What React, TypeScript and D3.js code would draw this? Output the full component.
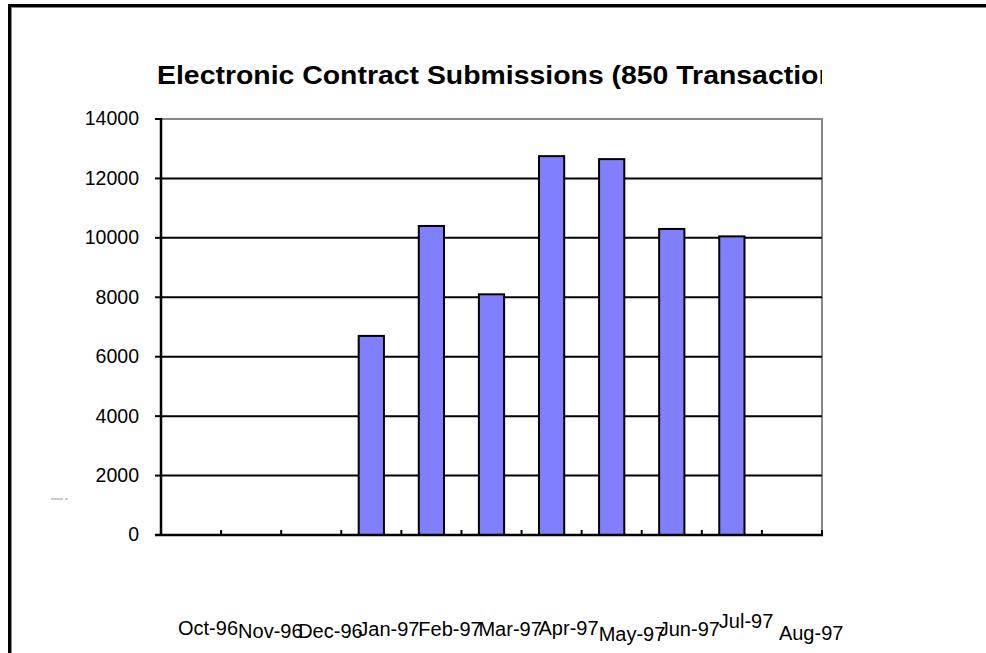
import React from "react";
import * as d3 from "d3";

const categories = ["Oct-96", "Nov-96", "Dec-96", "Jan-97", "Feb-97", "Mar-97", "Apr-97", "May-97", "Jun-97", "Jul-97", "Aug-97"];
const values: (number | null)[] = [null, null, null, 6700, 10400, 8100, 12750, 12650, 10300, 10050, null];
const yTicks = [0, 2000, 4000, 6000, 8000, 10000, 12000, 14000];
const title = "Electronic Contract Submissions (850 Transactions)";

// layout: staggered label baselines as rendered in the original
const labelBaseline = [635, 638, 638, 636, 636, 636, 635, 641, 636, 628, 640];

const W = 986, H = 653;
const left = 161, right = 822, top = 119, bottom = 535;
const font = "Arial, 'Liberation Sans', sans-serif";

export default function App() {
  const x = d3.scaleBand<string>().domain(categories).range([left, right]).paddingInner(0).paddingOuter(0);
  const y = d3.scaleLinear().domain([0, 14000]).range([bottom, top]);
  const bw = x.bandwidth();
  const barW = bw * 0.42;

  return (
    <svg width={W} height={H} style={{ position: "absolute", left: 0, top: 0, background: "#fff" }}>
      <defs>
        <clipPath id="titleClip">
          <rect x={0} y={0} width={822} height={110} />
        </clipPath>
      </defs>
      {/* outer frame */}
      <line x1={9.5} y1={4} x2={9.5} y2={H} stroke="#000" strokeWidth={3} />
      <line x1={8} y1={5.5} x2={W} y2={5.5} stroke="#000" strokeWidth={3} />
      <line x1={11.5} y1={7} x2={11.5} y2={H} stroke="#888" strokeWidth={1} />
      <line x1={11} y1={7.5} x2={W} y2={7.5} stroke="#888" strokeWidth={1} />

      <text x={157} y={84} fontFamily={font} fontWeight="bold" fontSize={25} textLength={704} lengthAdjust="spacingAndGlyphs" clipPath="url(#titleClip)" fill="#000">
        {title}
      </text>

      {/* plot area border */}
      <rect x={left} y={top} width={right - left} height={bottom - top} fill="none" stroke="#888" strokeWidth={2} />

      {/* gridlines */}
      {yTicks.filter(t => t > 0 && t < 14000).map(t => (
        <line key={t} x1={left} x2={right} y1={y(t)} y2={y(t)} stroke="#000" strokeWidth={2} />
      ))}

      {/* bars */}
      {categories.map((c, i) => {
        const v = values[i];
        if (v == null) return null;
        const cx = (x(c) as number) + bw / 2;
        return (
          <rect key={c} x={cx - barW / 2} y={y(v)} width={barW} height={y(0) - y(v)} fill="#8080ff" stroke="#000" strokeWidth={2} />
        );
      })}

      {/* axes */}
      <line x1={left} x2={left} y1={top - 1} y2={bottom + 1} stroke="#000" strokeWidth={2.5} />
      <line x1={left - 6} x2={right + 1} y1={bottom} y2={bottom} stroke="#000" strokeWidth={2.5} />
      {yTicks.map(t => (
        <g key={t}>
          <line x1={left - 6} x2={left} y1={y(t)} y2={y(t)} stroke="#000" strokeWidth={2} />
          <text x={139} y={y(t)} dy="0.33em" textAnchor="end" fontFamily={font} fontSize={19.5} fill="#000">{t}</text>
        </g>
      ))}
      {categories.map((c) => (
        <line key={"t" + c} x1={x(c) as number} x2={x(c) as number} y1={bottom} y2={bottom - 5} stroke="#000" strokeWidth={2} />
      ))}
      <line x1={right} x2={right} y1={bottom} y2={bottom - 5} stroke="#000" strokeWidth={2} />

      {categories.map((c, i) => (
        <text key={"l" + c} x={(x(c) as number) + 17} y={labelBaseline[i]} fontFamily={font} fontSize={20} fill="#000">{c}</text>
      ))}

      {/* stray legend remnant */}
      <line x1={51} x2={63} y1={499} y2={499} stroke="#999" strokeWidth={1} />
      <line x1={65} x2={68} y1={499} y2={499} stroke="#999" strokeWidth={1} />
    </svg>
  );
}
